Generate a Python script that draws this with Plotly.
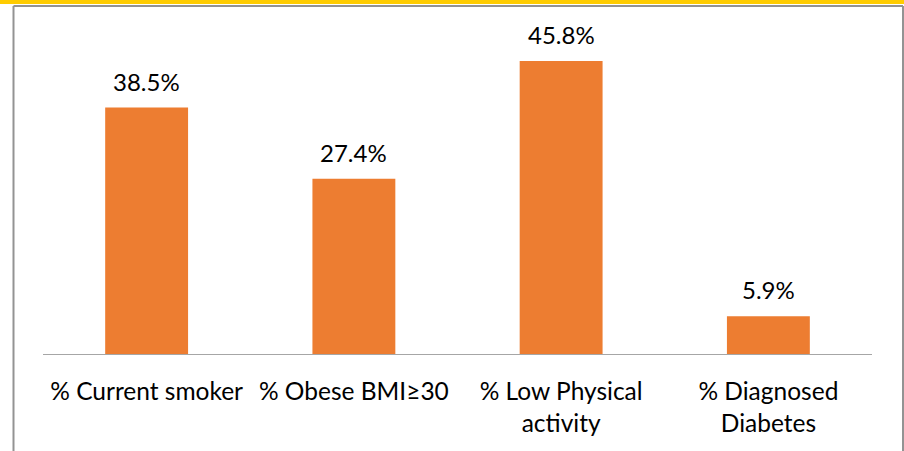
import plotly.graph_objects as go

categories = ["% Current smoker", "% Obese BMI≥30", "% Low Physical<br>activity", "% Diagnosed<br>Diabetes"]
values = [38.5, 27.4, 45.8, 5.9]
labels = ["38.5%", "27.4%", "45.8%", "5.9%"]

W, H = 904, 451
ml, mr, mt, mb = 43, 32, 34, 97
pw, ph = W - ml - mr, H - mt - mb

def px(x):
    return (x - ml) / pw

def py(y):
    return (H - mb - y) / ph

FONT = "Lato"

fig = go.Figure(go.Bar(
    x=categories, y=values,
    marker=dict(color="#ED7D31", line=dict(width=0)),
    width=0.4, cliponaxis=False,
))

annotations = [
    dict(x=c, y=v, text=t, showarrow=False, xref="x", yref="y", yanchor="bottom", yshift=10,
         font=dict(family=FONT, size=24, color="#000000"))
    for c, v, t in zip(categories, values, labels)
]

shapes = [
    dict(type="rect", xref="paper", yref="paper", x0=px(-2), x1=px(W + 2), y0=py(4), y1=py(-2),
         fillcolor="#FFCC00", line=dict(width=0), layer="above"),
    dict(type="line", xref="paper", yref="paper", x0=px(13.5), x1=px(903), y0=py(6), y1=py(6),
         line=dict(color="#939393", width=2)),
    dict(type="line", xref="paper", yref="paper", x0=px(13.5), x1=px(13.5), y0=py(6), y1=py(H + 5),
         line=dict(color="#939393", width=2)),
    dict(type="line", xref="paper", yref="paper", x0=px(903), x1=px(903), y0=py(6), y1=py(H + 5),
         line=dict(color="#939393", width=2)),
]

fig.update_layout(
    width=W, height=H, margin=dict(l=ml, r=mr, t=mt, b=mb),
    paper_bgcolor="white", plot_bgcolor="white",
    showlegend=False, shapes=shapes, annotations=annotations,
    font=dict(family=FONT, size=24, color="#000000"),
    xaxis=dict(showline=True, linecolor="#A6A6A6", linewidth=1, ticks="", showgrid=False,
               ticklabelstandoff=16,
               tickfont=dict(family=FONT, size=24.5, color="#000000")),
    yaxis=dict(range=[0, 50], visible=False, showgrid=False, zeroline=False),
)

fig.write_html("out.html")
